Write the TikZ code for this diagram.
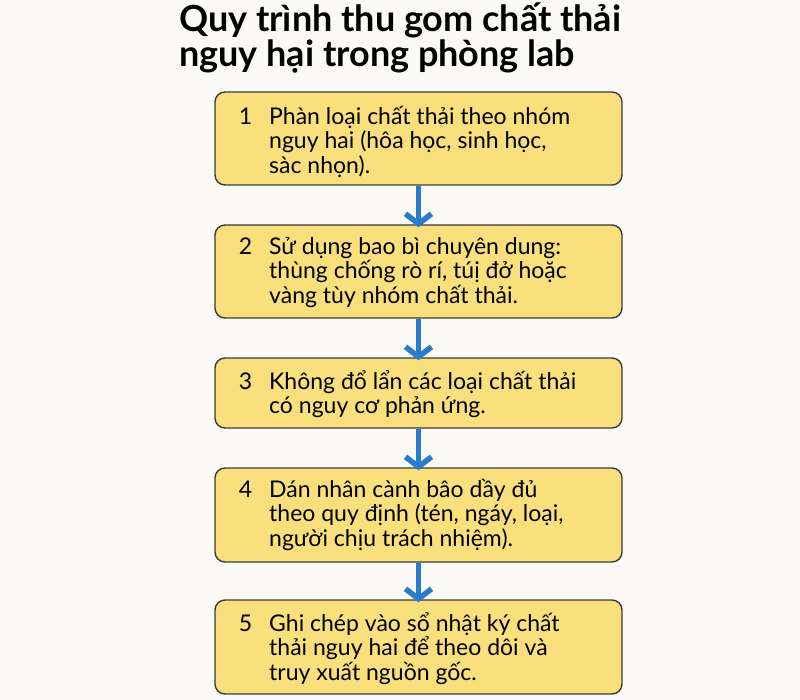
\documentclass[tikz,border=0pt]{standalone}
\usepackage{fontspec}
\setmainfont{Lato}
\usetikzlibrary{arrows.meta}
\definecolor{bgc}{HTML}{FBFAF6}
\definecolor{boxfill}{HTML}{F9E07C}
\definecolor{boxdraw}{HTML}{3A3A3A}
\definecolor{arrowc}{HTML}{2B7BCB}
\newcommand{\stepno}[1]{\makebox[0pt][r]{#1\hspace{17pt}}}
\tikzset{
  stepbox/.style={draw=boxdraw, fill=boxfill, line width=1.4pt, rounded corners=10pt, minimum width=407pt, inner sep=0pt},
  steptext/.style={anchor=north west, inner sep=0pt, align=left, font=\fontsize{23}{24.5}\selectfont},
  flowarrow/.style={draw=arrowc, line width=5pt, -{Straight Barb[length=10pt,width=26pt,line width=5.5pt]}},
  titletext/.style={anchor=north west, inner sep=0pt, align=left, font=\fontsize{36}{33}\selectfont\bfseries}
}
\begin{document}
\begin{tikzpicture}[x=1pt,y=-1pt]
\fill[bgc] (0,0) rectangle (800,700);
\useasboundingbox (0,0) rectangle (800,700);
\node[titletext] (title) at (179,3) {Quy trình thu gom chất thải\\nguy hại trong phòng lab};

\node[stepbox, minimum height=93pt] (b1) at (418.5,138.5) {};
\node[stepbox, minimum height=93pt] (b2) at (418.5,271.5) {};
\node[stepbox, minimum height=70pt] (b3) at (418.5,393) {};
\node[stepbox, minimum height=94pt] (b4) at (418.5,515) {};
\node[stepbox, minimum height=94pt] (b5) at (418.5,647) {};

\node[steptext] (t1) at (269,106) {\stepno{1}Phàn loại chất thải theo nhóm\\nguy hai (hôa học, sinh học,\\sàc nhọn).};
\node[steptext] (t2) at (269,237) {\stepno{2}Sử dụng bao bì chuyên dung:\\thùng chống rò rí, túị đở hoặc\\vàng tùy nhóm chất thải.};
\node[steptext] (t3) at (269,370) {\stepno{3}Không đổ lẩn các loại chất thải\\có nguy cơ phản ứng.};
\node[steptext] (t4) at (269,479) {\stepno{4}Dán nhân cành bâo dầy đủ\\theo quy định (tén, ngáy, loại,\\người chịu trách nhiệm).};
\node[steptext] (t5) at (269,612) {\stepno{5}Ghi chép vào sổ nhật ký chất\\thải nguy hai để theo dôi và\\truy xuất nguồn gốc.};

\draw[flowarrow] (b1.south) -- ([yshift=-3pt]b2.north);
\draw[flowarrow] (b2.south) -- ([yshift=-3pt]b3.north);
\draw[flowarrow] (b3.south) -- ([yshift=-3pt]b4.north);
\draw[flowarrow] (b4.south) -- ([yshift=-3pt]b5.north);
\end{tikzpicture}
\end{document}
